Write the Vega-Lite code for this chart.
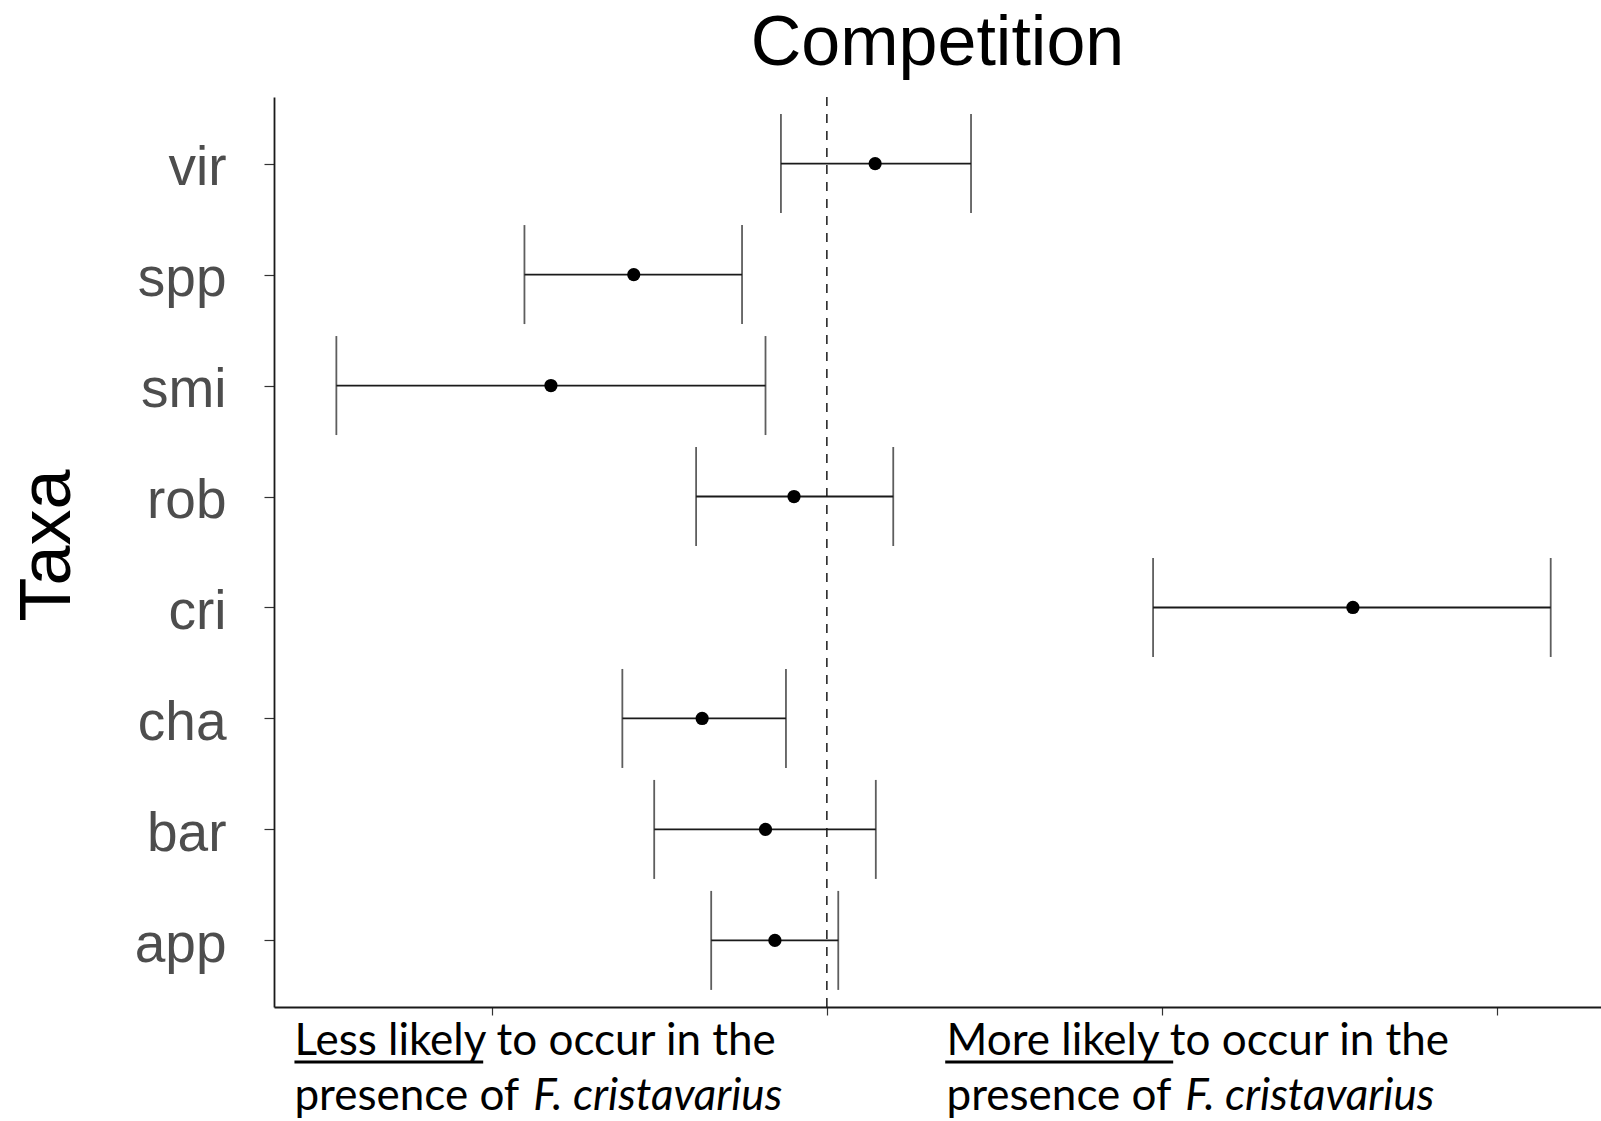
{
  "$schema": "https://vega.github.io/schema/vega-lite/v6.json",
  "width": 1327,
  "height": 910,
  "autosize": "none",
  "padding": {"left": 274, "top": 97, "right": 0, "bottom": 114},
  "background": "white",
  "config": {"view": {"stroke": null}},
  "title": {"text": "Competition", "fontSize": 70, "font": "Liberation Sans", "fontWeight": "normal", "color": "black", "anchor": "middle", "baseline": "alphabetic", "offset": 34, "dy": 73},
  "datasets": {
    "est": [
      {"taxon": "vir", "lo": -0.137, "est": 0.144, "hi": 0.430},
      {"taxon": "spp", "lo": -0.902, "est": -0.576, "hi": -0.253},
      {"taxon": "smi", "lo": -1.463, "est": -0.823, "hi": -0.183},
      {"taxon": "rob", "lo": -0.390, "est": -0.098, "hi": 0.198},
      {"taxon": "cri", "lo": 0.973, "est": 1.569, "hi": 2.159},
      {"taxon": "cha", "lo": -0.610, "est": -0.372, "hi": -0.122},
      {"taxon": "bar", "lo": -0.515, "est": -0.183, "hi": 0.146},
      {"taxon": "app", "lo": -0.345, "est": -0.155, "hi": 0.034}
    ],
    "notes": [
      {"ax": -1.588, "line": 1, "label": "Less likely to occur in the"},
      {"ax": -1.588, "line": 2, "label": "presence of "},
      {"ax": 0.357, "line": 1, "label": "More likely to occur in the"},
      {"ax": 0.357, "line": 2, "label": "presence of "}
    ],
    "italic": [
      {"ax": -0.876, "label": "F. cristavarius"},
      {"ax": 1.069, "label": "F. cristavarius"}
    ],
    "under": [
      {"u1": -1.588, "u2": -1.025},
      {"u1": 0.353, "u2": 1.033}
    ]
  },
  "layer": [
    {
      "data": {"name": "est"},
      "mark": {"type": "rule", "color": "#1a1a1a", "strokeWidth": 1.8},
      "encoding": {
        "x": {"field": "lo", "type": "quantitative",
          "scale": {"domain": [-1.649, 2.309], "nice": false, "zero": false},
          "axis": {"values": [-1, 0, 1, 2], "labels": false, "title": null, "grid": false, "domainColor": "#1a1a1a", "domainWidth": 1.8, "tickColor": "#333333", "tickSize": 8, "tickWidth": 1.2}},
        "x2": {"field": "hi"},
        "y": {"field": "taxon", "type": "nominal",
          "sort": ["vir", "spp", "smi", "rob", "cri", "cha", "bar", "app"],
          "scale": {"type": "point", "padding": 0.6},
          "axis": {"title": "Taxa", "titleFontSize": 72, "titleFont": "Liberation Sans", "titleFontWeight": "normal", "titleColor": "black", "titleAngle": -90, "titleX": -205, "titleY": 448, "titleAlign": "center", "titleBaseline": "alphabetic", "labelFontSize": 55, "labelFont": "Liberation Sans", "labelColor": "#4d4d4d", "labelPadding": 38, "labelBaseline": "alphabetic", "labelOffset": 21, "tickSize": 10, "tickColor": "#333333", "tickWidth": 1.2, "domainColor": "#1a1a1a", "domainWidth": 1.8, "grid": false}}
      }
    },
    {
      "data": {"values": [{"ref": 0}]},
      "mark": {"type": "rule", "color": "#1a1a1a", "strokeWidth": 1.5, "strokeDash": [9, 8]},
      "encoding": {"x": {"field": "ref", "type": "quantitative"}}
    },
    {
      "data": {"name": "est"},
      "mark": {"type": "tick", "color": "#1a1a1a", "thickness": 1.8, "size": 99, "orient": "vertical"},
      "encoding": {
        "x": {"field": "lo", "type": "quantitative"},
        "y": {"field": "taxon", "type": "nominal", "sort": ["vir", "spp", "smi", "rob", "cri", "cha", "bar", "app"]}
      }
    },
    {
      "data": {"name": "est"},
      "mark": {"type": "tick", "color": "#1a1a1a", "thickness": 1.8, "size": 99, "orient": "vertical"},
      "encoding": {
        "x": {"field": "hi", "type": "quantitative"},
        "y": {"field": "taxon", "type": "nominal", "sort": ["vir", "spp", "smi", "rob", "cri", "cha", "bar", "app"]}
      }
    },
    {
      "data": {"name": "est"},
      "mark": {"type": "point", "filled": true, "color": "black", "opacity": 1, "size": 175},
      "encoding": {
        "x": {"field": "est", "type": "quantitative"},
        "y": {"field": "taxon", "type": "nominal", "sort": ["vir", "spp", "smi", "rob", "cri", "cha", "bar", "app"]}
      }
    },
    {
      "data": {"name": "notes"},
      "mark": {"type": "text", "font": "Lato", "fontSize": 44, "color": "black", "align": "left", "baseline": "alphabetic"},
      "encoding": {
        "x": {"field": "ax", "type": "quantitative"},
        "y": {"value": {"expr": "height + 48"}},
        "yOffset": {"field": "line", "type": "quantitative", "scale": {"domain": [1, 2], "range": [0, 55]}},
        "text": {"field": "label"}
      }
    },
    {
      "data": {"name": "italic"},
      "mark": {"type": "text", "font": "Lato", "fontSize": 44, "fontStyle": "italic", "color": "black", "align": "left", "baseline": "alphabetic"},
      "encoding": {
        "x": {"field": "ax", "type": "quantitative"},
        "y": {"value": {"expr": "height + 103"}},
        "text": {"field": "label"}
      }
    },
    {
      "data": {"name": "under"},
      "mark": {"type": "rule", "color": "black", "strokeWidth": 3},
      "encoding": {
        "x": {"field": "u1", "type": "quantitative"},
        "x2": {"field": "u2"},
        "y": {"value": {"expr": "height + 55"}}
      }
    }
  ]
}
